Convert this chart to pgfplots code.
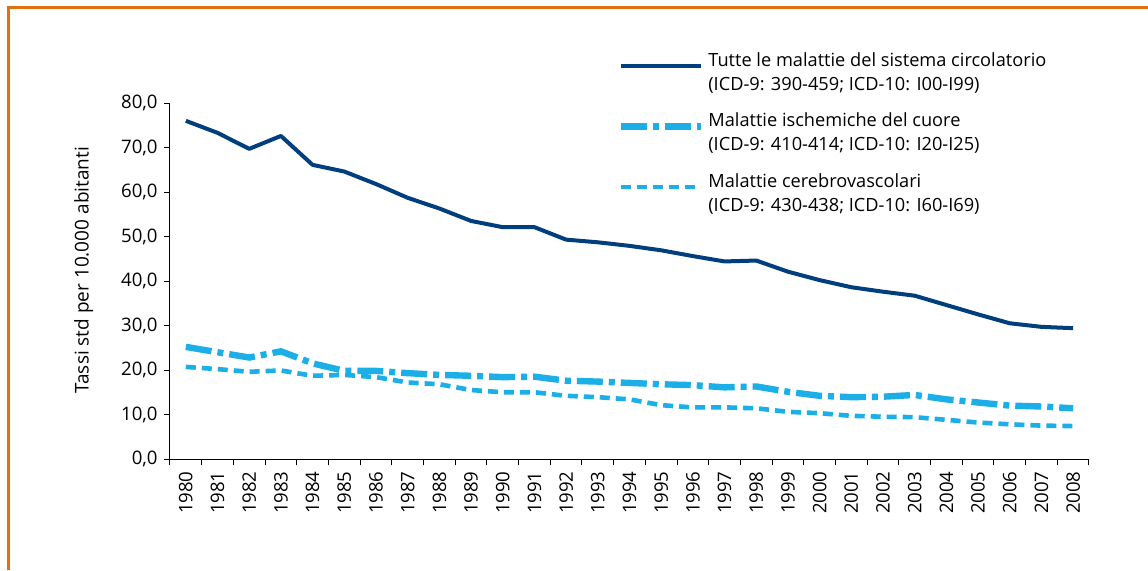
\documentclass[border=0pt]{standalone}
\usepackage{pgfplots}
\pgfplotsset{compat=1.18}
\usepackage{fontspec}
\setmainfont{Open Sans}
\definecolor{dblue}{RGB}{0,62,126}
\definecolor{lblue}{RGB}{28,174,230}
\definecolor{frameor}{RGB}{225,112,16}
\begin{document}
\fontsize{9}{12}\selectfont
\begin{tikzpicture}
\useasboundingbox (0,0) rectangle (574pt,285pt);
\draw[frameor, line width=1.5pt] (4pt,0) -- (4pt,281.5pt) -- (574pt,281.5pt);
\begin{axis}[
  at={(85pt,55.5pt)}, anchor=south west,
  scale only axis, width=459.5pt, height=178pt,
  xmin=-0.5, xmax=28.5, ymin=0, ymax=80,
  axis x line*=bottom, axis y line*=left,
  axis line style={line width=0.5pt},
  tick align=outside,
  major tick length=3pt, minor tick length=3pt,
  xtick={0,...,28},
  xticklabels={1980,1981,1982,1983,1984,1985,1986,1987,1988,1989,1990,1991,1992,1993,1994,1995,1996,1997,1998,1999,2000,2001,2002,2003,2004,2005,2006,2007,2008},
  minor xtick={-0.5,0.5,...,28.5},
  major x tick style={draw=none},
  x tick label style={rotate=90, anchor=east, font=\fontsize{9.3}{10}\selectfont},
  ytick={0,10,...,80},
  y tick label style={font=\fontsize{9.3}{10}\selectfont},
  yticklabel style={/pgf/number format/.cd, fixed, fixed zerofill, precision=1, use comma, assume math mode=true},
  tick style={black, line width=0.5pt},
  ylabel={Tassi std per 10.000 abitanti},
  ylabel style={at={(axis description cs:-0.094,0.53)}, anchor=center, font=\fontsize{9.5}{10}\selectfont},
  legend style={at={(axis description cs:0.487,1.155)}, anchor=north west, draw=none, fill=none,
    inner sep=0pt, row sep=6pt, column sep=0pt, cells={align=left, anchor=base west},
    font=\fontsize{9.1}{12}\selectfont},
  legend cell align=left,
  legend image code/.code={\draw[#1] (0pt,3.2pt) -- (40pt,3.2pt);},
]
\addplot[dblue, line width=2pt, line join=round] coordinates {
(0,76.0)(1,73.3)(2,69.7)(3,72.6)(4,66.1)(5,64.6)(6,61.8)(7,58.7)(8,56.3)(9,53.5)
(10,52.1)(11,52.1)(12,49.3)(13,48.7)(14,47.9)(15,46.9)(16,45.6)(17,44.4)(18,44.6)(19,42.1)
(20,40.2)(21,38.6)(22,37.6)(23,36.7)(24,34.6)(25,32.5)(26,30.5)(27,29.7)(28,29.4)};
\addlegendentry{Tutte le malattie del sistema circolatorio\\(ICD-9: 390-459; ICD-10: I00-I99)}
\addplot[lblue, line width=3.2pt, dash pattern=on 13pt off 3pt on 3pt off 3pt] coordinates {
(0,25.2)(1,24.0)(2,22.8)(3,24.2)(4,21.5)(5,19.8)(6,19.8)(7,19.3)(8,18.9)(9,18.7)
(10,18.4)(11,18.5)(12,17.6)(13,17.4)(14,17.1)(15,16.8)(16,16.6)(17,16.1)(18,16.3)(19,15.1)
(20,14.2)(21,13.9)(22,14.0)(23,14.4)(24,13.4)(25,12.7)(26,12.0)(27,11.8)(28,11.4)};
\addlegendentry{Malattie ischemiche del cuore\\(ICD-9: 410-414; ICD-10: I20-I25)}
\addplot[lblue, line width=2.3pt, dash pattern=on 5pt off 3pt] coordinates {
(0,20.7)(1,20.2)(2,19.6)(3,19.9)(4,18.7)(5,18.9)(6,18.4)(7,17.2)(8,16.8)(9,15.5)
(10,15.0)(11,15.0)(12,14.2)(13,13.9)(14,13.4)(15,12.1)(16,11.6)(17,11.6)(18,11.4)(19,10.6)
(20,10.3)(21,9.7)(22,9.5)(23,9.4)(24,8.8)(25,8.2)(26,7.8)(27,7.5)(28,7.4)};
\addlegendentry{Malattie cerebrovascolari\\(ICD-9: 430-438; ICD-10: I60-I69)}
\end{axis}
\end{tikzpicture}
\end{document}
